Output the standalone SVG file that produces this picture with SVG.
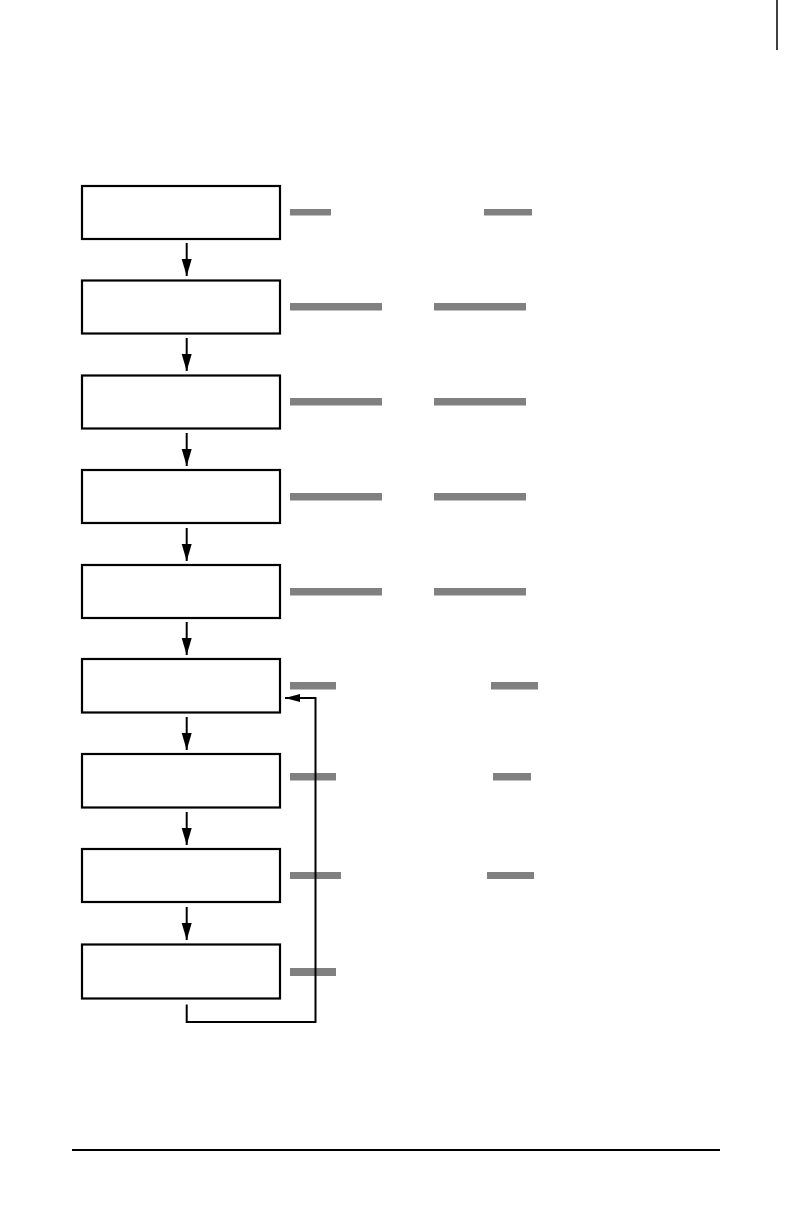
<svg xmlns="http://www.w3.org/2000/svg" width="792" height="1224" viewBox="0 0 792 1224">
<style>
.box{fill:#fff;stroke:#000;stroke-width:2.2}
.bar{fill:#808080}
.conn{fill:none;stroke:#000;stroke-width:2}
</style>
<defs>
<marker id="ah" markerUnits="userSpaceOnUse" markerWidth="18" markerHeight="12" refX="17" refY="5" orient="auto">
<path d="M0,0 L17,5 L0,10 Z" fill="#000"/>
</marker>
<marker id="ah2" markerUnits="userSpaceOnUse" markerWidth="16" markerHeight="10" refX="15" refY="4" orient="auto">
<path d="M0,0 L15,4 L0,8 Z" fill="#000"/>
</marker>
</defs>
<rect width="792" height="1224" fill="#fff"/>
<line x1="777" y1="0" x2="777" y2="50" stroke="#000" stroke-width="1.5"/>
<g id="n1"><rect class="box" x="82" y="186" width="198" height="53"/><rect class="bar" x="290" y="209" width="41" height="6.5"/><rect class="bar" x="484" y="209" width="48" height="6.5"/></g>
<g id="n2"><rect class="box" x="82" y="280.5" width="198" height="53"/><rect class="bar" x="290" y="303" width="92" height="7.5"/><rect class="bar" x="434" y="303" width="92" height="7.5"/></g>
<g id="n3"><rect class="box" x="82" y="375.5" width="198" height="53"/><rect class="bar" x="290" y="398" width="92" height="7.5"/><rect class="bar" x="434" y="398" width="92" height="7.5"/></g>
<g id="n4"><rect class="box" x="82" y="470" width="198" height="53"/><rect class="bar" x="290" y="493" width="92" height="7.5"/><rect class="bar" x="434" y="493" width="92" height="7.5"/></g>
<g id="n5"><rect class="box" x="82" y="565" width="198" height="53"/><rect class="bar" x="290" y="588" width="92" height="7.5"/><rect class="bar" x="434" y="588" width="92" height="7.5"/></g>
<g id="n6"><rect class="box" x="82" y="659" width="198" height="53.5"/><rect class="bar" x="290" y="682" width="46" height="7.5"/><rect class="bar" x="491" y="682" width="47" height="7.5"/></g>
<g id="n7"><rect class="box" x="82" y="754" width="198" height="53.5"/><rect class="bar" x="290" y="773" width="46" height="7.5"/><rect class="bar" x="493" y="773" width="38" height="7.5"/></g>
<g id="n8"><rect class="box" x="82" y="849" width="198" height="53"/><rect class="bar" x="290" y="872" width="51" height="7"/><rect class="bar" x="487" y="872" width="47" height="7"/></g>
<g id="n9"><rect class="box" x="82" y="944.5" width="198" height="54"/><rect class="bar" x="290" y="968" width="46" height="8"/></g>
<g id="connectors">
<line class="conn" x1="186.7" y1="243" x2="186.7" y2="276" marker-end="url(#ah)"/>
<line class="conn" x1="186.7" y1="338" x2="186.7" y2="371" marker-end="url(#ah)"/>
<line class="conn" x1="186.7" y1="433" x2="186.7" y2="466" marker-end="url(#ah)"/>
<line class="conn" x1="186.7" y1="528" x2="186.7" y2="561" marker-end="url(#ah)"/>
<line class="conn" x1="186.7" y1="622" x2="186.7" y2="655" marker-end="url(#ah)"/>
<line class="conn" x1="186.7" y1="717" x2="186.7" y2="750" marker-end="url(#ah)"/>
<line class="conn" x1="186.7" y1="812" x2="186.7" y2="845" marker-end="url(#ah)"/>
<line class="conn" x1="186.7" y1="907" x2="186.7" y2="940" marker-end="url(#ah)"/>
<polyline class="conn" points="186.7,1004.5 186.7,1022 315.5,1022 315.5,698 285,698" marker-end="url(#ah2)"/>
</g>
<line x1="72" y1="1150" x2="720" y2="1150" stroke="#000" stroke-width="2"/>
</svg>
